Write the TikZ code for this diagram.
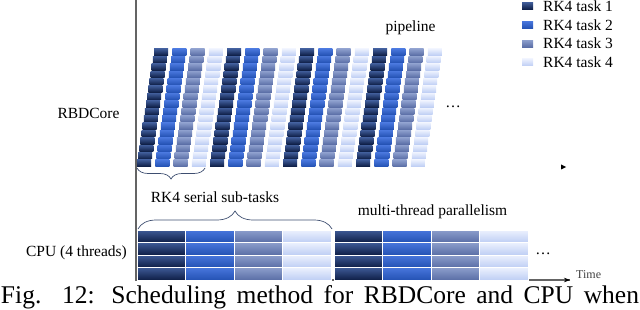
\documentclass[tikz,border=0pt]{standalone}
\usepackage{fontspec}
\setmainfont{Liberation Serif}
\usetikzlibrary{arrows.meta,decorations.pathreplacing}
\definecolor{tAa}{RGB}{62,90,150}
\definecolor{tAb}{RGB}{14,30,70}
\definecolor{tBa}{RGB}{72,118,220}
\definecolor{tBb}{RGB}{36,82,180}
\definecolor{tCa}{RGB}{140,158,204}
\definecolor{tCb}{RGB}{90,110,166}
\definecolor{tDa}{RGB}{236,241,254}
\definecolor{tDb}{RGB}{190,206,244}
\definecolor{bracecol}{RGB}{62,78,112}
\definecolor{axiscol}{RGB}{100,100,100}
\begin{document}
\begin{tikzpicture}[x=1pt,y=-1pt,
  task1/.style={top color=tAa,bottom color=tAb},
  task2/.style={top color=tBa,bottom color=tBb},
  task3/.style={top color=tCa,bottom color=tCb},
  task4/.style={top color=tDa,bottom color=tDb},
  lbl/.style={font=\fontsize{15.5}{18}\selectfont,inner sep=0pt},
  bracestyle/.style={draw=bracecol,line width=0.7pt,decorate},
]
\useasboundingbox (0,0) rectangle (640,310);
% axes
\coordinate (ytop) at (136,0);
\coordinate (origin) at (136,280);
\coordinate (xend) at (570,280);
\draw[axiscol,line width=1.2pt] (ytop) -- (origin) -- (xend);
\draw[black,line width=0.6pt,-{Stealth[length=6pt,width=4.5pt]}] ([xshift=-4pt]xend) -- (xend);
\node[font=\fontsize{12}{13}\selectfont,text=black!75,anchor=west,inner sep=0pt] (time) at (576,275) {Time};
% pipeline blocks
\foreach \k in {0,...,15}{
  \pgfmathtruncatemacro\t{mod(\k,4)+1}
  \foreach \r in {0,...,15}{
    \pgfmathsetmacro\bx{154+18.25*\k-1.133*\r}
    \pgfmathsetmacro\by{49+7.4*\r}
    \shade[task\t] (\bx,\by) rectangle ++(14,6.4);
  }
}
% small arrowhead
\fill[black] (561,164.5) -- (566,167) -- (561,169.5) -- cycle;
% CPU blocks
\foreach \g in {0,1}{
  \foreach \c in {0,...,3}{
    \pgfmathtruncatemacro\t{\c+1}
    \foreach \r in {0,...,3}{
      \pgfmathsetmacro\bx{137+197*\g+48.6*\c}
      \pgfmathsetmacro\by{230+12.5*\r}
      \shade[task\t,draw=white,line width=0.8pt] (\bx,\by) rectangle ++(48.6,12.5);
    }
  }
}
% braces
\coordinate (ba) at (205,168);
\coordinate (bb) at (137,168);
\draw[bracestyle,decoration={brace,amplitude=11pt}] (ba) -- (bb);
\coordinate (bc) at (138,229);
\coordinate (bd) at (332,229);
\draw[bracestyle,decoration={brace,amplitude=18pt}] (bc) -- (bd);
% labels
\node[lbl] (rbd) at (88.5,113) {RBDCore};
\node[lbl] (cpu) at (76.5,253) {CPU (4 threads)};
\node[lbl] (pipe) at (410.5,28) {pipeline};
\node[lbl] (serial) at (215,197) {RK4 serial sub-tasks};
\node[lbl] (multi) at (432.5,212) {multi-thread parallelism};
\node[lbl] (dots1) at (453,107) {\dots};
\node[lbl] (dots2) at (543,254) {\dots};
% legend
\foreach \i/\yy in {1/6,2/24.8,3/43.6,4/62.4}{
  \shade[task\i] (522,\yy-3.5) rectangle ++(11,7);
  \node[lbl,anchor=west] (leg\i) at (543,\yy) {RK4 task \i};
}
% caption
\node[anchor=base,inner sep=0pt,font=\fontsize{25.5}{28}\selectfont] (cap) at (320,303)
  {\makebox[638pt][s]{Fig. 12: Scheduling method for RBDCore and CPU when}};
\end{tikzpicture}
\end{document}
